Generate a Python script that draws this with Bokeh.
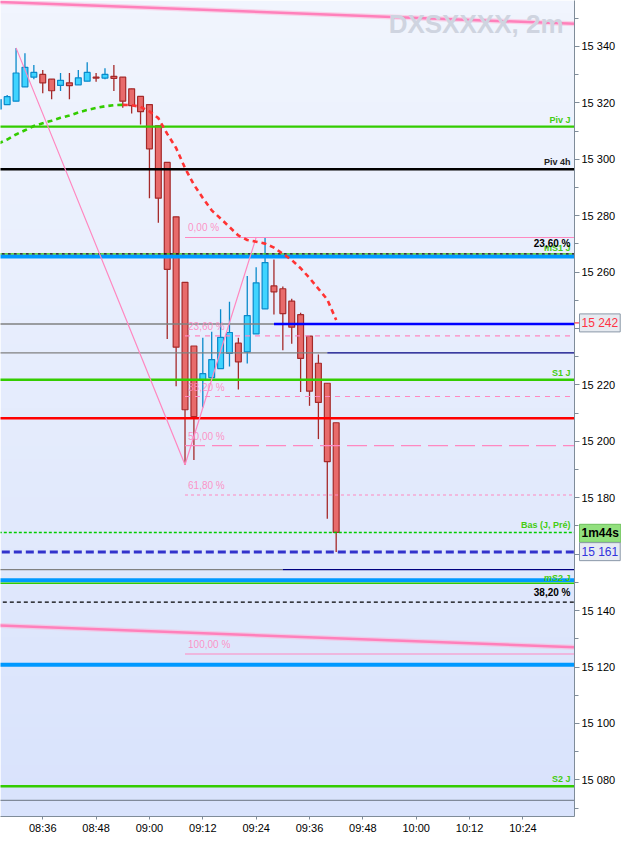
import numpy as np
from bokeh.plotting import figure
from bokeh.models import Range1d, FixedTicker, Label
from bokeh.core.properties import value
from bokeh.embed import file_html
from bokeh.resources import INLINE

# ---------------- data ----------------
candle_idx = list(range(-5, 34))          # 2-minute bars, 0 = 08:36
opens  = [15317.8, 15319.4, 15320.6, 15325.7, 15329.1, 15330.1, 15328.4, 15326.2, 15327.1, 15326.4,
          15327.7, 15329.1, 15328.8, 15329.4, 15329.1, 15325.0, 15322.3, 15319.4, 15311.9, 15298.9,
          15279.6, 15256.4, 15233.8, 15221.8, 15222.6, 15225.8, 15231.2, 15234.8, 15231.7, 15238.1,
          15247.0, 15255.1, 15254.1, 15249.7, 15244.9, 15237.3, 15227.7, 15220.6, 15206.6]
highs  = [15321.2, 15322.8, 15339.5, 15337.6, 15333.4, 15331.7, 15328.4, 15330.6, 15330.6, 15331.7,
          15334.4, 15330.6, 15332.3, 15333.4, 15329.1, 15325.0, 15322.3, 15319.4, 15311.9, 15298.9,
          15279.6, 15256.4, 15233.8, 15236.7, 15238.9, 15246.8, 15249.5, 15236.7, 15258.6, 15261.7,
          15272.3, 15264.5, 15254.9, 15250.6, 15245.6, 15237.3, 15230.8, 15220.6, 15206.6]
lows   = [15316.0, 15319.4, 15320.6, 15325.7, 15328.4, 15323.4, 15321.3, 15324.2, 15321.3, 15326.4,
          15327.7, 15327.5, 15328.4, 15324.2, 15318.3, 15316.2, 15312.3, 15286.2, 15277.5, 15236.3,
          15219.5, 15191.7, 15193.4, 15212.0, 15222.6, 15225.8, 15226.5, 15218.4, 15227.6, 15238.1,
          15247.0, 15245.0, 15232.3, 15234.6, 15217.5, 15212.6, 15200.8, 15172.6, 15160.8]
closes = [15321.2, 15322.2, 15330.6, 15332.6, 15330.8, 15327.1, 15324.3, 15328.0, 15326.1, 15328.9,
          15330.8, 15328.8, 15330.1, 15328.7, 15320.6, 15319.0, 15316.9, 15303.7, 15286.2, 15261.0,
          15233.4, 15211.2, 15208.8, 15224.0, 15229.0, 15236.9, 15238.6, 15228.2, 15244.6, 15256.2,
          15263.4, 15253.0, 15245.3, 15240.5, 15229.4, 15217.8, 15213.8, 15192.8, 15167.7]

ma_values = [15305.6, 15307.0, 15308.8, 15310.3, 15311.8, 15312.8, 15313.7, 15314.7, 15315.5, 15316.6,
             15317.5, 15318.2, 15318.8, 15319.2, 15319.3, 15319.2, 15318.6, 15317.0, 15314.6, 15309.0,
             15304.0, 15296.9, 15291.0, 15286.3, 15281.9, 15279.0, 15276.0, 15273.0, 15271.4, 15270.8,
             15270.1, 15268.7, 15266.5, 15264.3, 15261.4, 15257.9, 15254.1, 15250.3, 15243.0]

time_tick_idx = [0, 6, 12, 18, 24, 30, 36, 42, 48, 54]
time_tick_labels = ["08:36", "08:48", "09:00", "09:12", "09:24", "09:36", "09:48", "10:00", "10:12", "10:24"]

price_ticks = [15080, 15100, 15120, 15140, 15160, 15180, 15200, 15220, 15240, 15260, 15280, 15300, 15320, 15340]
price_minor = [15070, 15090, 15110, 15130, 15150, 15170, 15190, 15210, 15230, 15250, 15270, 15290, 15310, 15330, 15350]
hidden_ticks = [15160, 15240]

# horizontal levels
piv_j, piv_4h = 15311.6, 15296.5
ms1_black, ms1_blue = 15266.5, 15265.5
ray_a, ray_a_from = 15241.6, 26
ray_b, ray_b_from = 15231.4, 32
s1_j = 15221.8
red_level = 15208.2
bas_j_pre = 15167.7
last_price = 15160.8
ray_c, ray_c_from = 15154.5, 27
ms2_blue, ms2_j = 15150.8, 15149.7
fib2_382 = 15143.0
blue_low = 15120.8
s2_j = 15077.7
gray_low = 15072.7

fib_from = 16
fib_prices = [15272.3, 15237.4, 15215.9, 15198.5, 15181.0, 15124.6]
fib_names = ["0,00 %", "23,60 %", "38,20 %", "50,00 %", "61,80 %", "100,00 %"]

zig_idx = [-3, 16, 24]
zig_prices = [15339.5, 15191.7, 15272.3]

trend_idx = [-5, 60]
trend_upper = [15355.8, 15348.0]
trend_lower = [15134.7, 15127.0]

cur_label_price, cur_label_text = 15242.0, "15 242"
timer_price, timer_text = 15167.4, "1m44s"
last_label_price, last_label_text = 15160.9, "15 161"

# ---------------- figure ----------------
X0, X1 = -4.75, 59.8
Y0, Y1 = 15067.0, 15356.3
FONT = "Liberation Sans"

p = figure(width=621, height=836, x_range=Range1d(X0, X1), y_range=Range1d(Y0, Y1),
           output_backend="svg", toolbar_location=None, y_axis_location="right",
           min_border_left=0, min_border_top=0, min_border_right=47, min_border_bottom=20)
p.grid.visible = False
p.outline_line_color = None
p.border_fill_color = "white"

# gradient background
n = 64
t = np.linspace(0.0, 1.0, n)
top = np.array([241, 245, 254]); bot = np.array([217, 227, 252])
cols = (bot + (top - bot) * t[:, None]).astype(np.uint8)
img = np.zeros((n, 1), dtype=np.uint32)
v = img.view(dtype=np.uint8).reshape((n, 1, 4))
v[:, 0, 0] = cols[:, 0]; v[:, 0, 1] = cols[:, 1]; v[:, 0, 2] = cols[:, 2]; v[:, 0, 3] = 255
p.image_rgba(image=[img], x=X0, y=Y0, dw=X1 - X0, dh=Y1 - Y0, level="image")

# axes
yax = p.yaxis[0]
yax.ticker = FixedTicker(ticks=price_ticks, minor_ticks=price_minor)
ov = {tk: f"{tk // 1000} {tk % 1000:03d}" for tk in price_ticks}
for tk in hidden_ticks:
    ov[tk] = ""
yax.major_label_overrides = ov
yax.major_label_text_font = FONT
yax.major_label_text_font_size = "11px"
yax.major_label_text_color = "black"
yax.axis_line_color = "#7f8c99"
yax.major_tick_line_color = "#7f8c99"
yax.minor_tick_line_color = "#7f8c99"
yax.major_tick_in = 0
yax.major_tick_out = 5
yax.minor_tick_in = 0
yax.minor_tick_out = 4
yax.major_label_standoff = 2

xax = p.xaxis[0]
xax.ticker = FixedTicker(ticks=time_tick_idx)
xax.major_label_overrides = {k: s for k, s in zip(time_tick_idx, time_tick_labels)}
xax.major_label_text_font = FONT
xax.major_label_text_font_size = "11px"
xax.major_label_text_color = "black"
xax.axis_line_color = "#7f8c99"
xax.major_tick_line_color = "#7f8c99"
xax.minor_tick_line_color = None
xax.major_tick_in = 0
xax.major_tick_out = 3
xax.major_label_standoff = 2

# candles
up = [c >= o for o, c in zip(opens, closes)]
body_top = [max(o, c) for o, c in zip(opens, closes)]
body_bot = [min(o, c) for o, c in zip(opens, closes)]
wick_col = ["#0a8acb" if u else "#a52a2a" for u in up]
fill_col = ["#3fd4ff" if u else "#e86b6b" for u in up]
p.segment(x0=candle_idx, y0=highs, x1=candle_idx, y1=lows, line_color=wick_col, line_width=1.3)
p.vbar(x=candle_idx, top=body_top, bottom=body_bot, width=0.66,
       fill_color=fill_col, line_color=wick_col, line_width=1.2)

def hline(price, color, width, dash="solid", k0=-10, k1=70, alpha=1.0, offset=0):
    p.segment(x0=[k0], y0=[price], x1=[k1], y1=[price], line_color=color,
              line_width=width, line_dash=dash, line_alpha=alpha, line_dash_offset=offset)

GREEN = "#33cc00"
LBLUE = "#0099ff"
hline(piv_j, GREEN, 2.2)
hline(piv_4h, "black", 2.5)
hline(ray_a, "#808080", 1.3, k1=ray_a_from)
hline(ray_a, "#0000ff", 2.5, k0=ray_a_from)
hline(ray_b, "#808080", 1.3, k1=ray_b_from)
hline(ray_b, "#000080", 1.3, k0=ray_b_from)
hline(s1_j, GREEN, 2.5)
hline(red_level, "#ff0000", 2.5)
hline(bas_j_pre, "#00cc00", 1.4, "3 2")
hline(last_price, "#3333cc", 3, "8 4")
hline(ray_c, "#808080", 1.3, k1=ray_c_from)
hline(ray_c, "#000080", 1.3, k0=ray_c_from)
hline(ms2_blue, LBLUE, 4)
hline(ms2_j, GREEN, 1.5)
hline(fib2_382, "black", 1.2, "4 3")
hline(blue_low, LBLUE, 4)
hline(s2_j, GREEN, 2.5)
hline(gray_low, "#808a99", 1.3)
hline(ms1_blue, LBLUE, 4)
hline(ms1_black, "black", 1.2, "3 3")
hline(ms1_black, GREEN, 1.2, "3 3", offset=3)

# fibonacci retracement
PINK = "#ff88c0"
fib_dash = ["solid", "5 5", "5 5", "20 7", "3 3", "solid"]
for fp, fd in zip(fib_prices, fib_dash):
    hline(fp, PINK, 1.1, fd, k0=fib_from)
for fp, fn in zip(fib_prices, fib_names):
    p.add_layout(Label(x=fib_from, y=fp, x_offset=3, y_offset=4, text=fn, text_color=PINK,
                       text_font=FONT, text_font_size="10px", text_align="left",
                       text_baseline="bottom", text_alpha=0.9))

# zigzag
p.line(zig_idx, zig_prices, line_color=PINK, line_width=1.2)

# moving average: rising part green, falling part red
split = candle_idx.index(9)
p.line(candle_idx[:split + 1], ma_values[:split + 1], line_color=GREEN, line_width=2.6, line_dash="5 4")
p.line(candle_idx[split:], ma_values[split:], line_color="#ff3333", line_width=2.6, line_dash="5 4")

# channel trend lines
for tl in (trend_upper, trend_lower):
    p.line(trend_idx, tl, line_color="#ffb0d4", line_width=5, line_alpha=0.5)
    p.line(trend_idx, tl, line_color="#ff80bb", line_width=2.5)

# right-side level names
def rlabel(price, text, color, size="9px", yoff=2, bold=True):
    p.add_layout(Label(x=X1, y=price, x_offset=-4, y_offset=yoff, text=text, text_color=color,
                       text_font=FONT, text_font_size=size,
                       text_font_style="bold" if bold else "normal",
                       text_align="right", text_baseline="bottom"))

LG = "#44cc11"
rlabel(piv_j, "Piv J", LG)
rlabel(piv_4h, "Piv 4h", "#222222")
rlabel(ms1_black, "mS1 J", LG, yoff=1)
rlabel(ms1_black, "23,60 %", "black", size="10px", yoff=5)
rlabel(s1_j, "S1 J", LG)
rlabel(bas_j_pre, "Bas (J, Pré)", LG)
rlabel(ms2_j, "mS2 J", LG, yoff=0)
rlabel(fib2_382, "38,20 %", "black", size="10px", yoff=4)
rlabel(s2_j, "S2 J", LG)

# watermark
p.add_layout(Label(x=X1, y=Y1, x_offset=-11, y_offset=-8, text="DXSXXXX, 2m",
                   text_color="#cfd4e0", text_font=FONT, text_font_size="26px",
                   text_font_style="bold", text_align="right", text_baseline="top"))

# small red tick marking the current price on the axis
p.segment(x0=[X1], y0=[cur_label_price], x1=[X1 + 0.5], y1=[cur_label_price],
          line_color="#ff3344", line_width=1.2, level="overlay")

# price boxes on the axis: text glyphs on the overlay level (not clipped to the frame)
def box(price, text, color, fill, border, bold=False):
    p.text(x=[X1], y=[price], text=[text], x_offset=5, text_color=color,
           text_font=value(FONT), text_font_size="12px",
           text_font_style="bold" if bold else "normal",
           text_align="left", text_baseline="middle",
           background_fill_color=fill, border_line_color=border, padding=2, level="overlay")

box(cur_label_price, cur_label_text, "#ff3344", "#e6eaf0", "#8a98a8")
box(timer_price, timer_text, "black", "#92e07e", "#6cc05a", bold=True)
box(last_label_price, last_label_text, "#3333dd", "#e6eaf2", "#8a98a8")

open("out.html", "w").write(file_html(p, INLINE))
